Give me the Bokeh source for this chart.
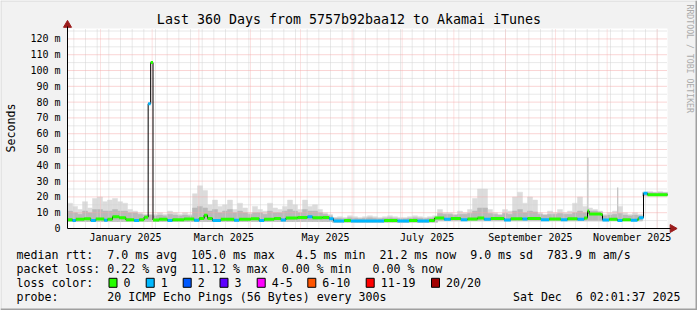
import math
import re
from bokeh.plotting import figure
from bokeh.models import Range1d, FixedTicker, Label, LinearAxis, ColumnDataSource
from bokeh.embed import file_html
from bokeh.resources import INLINE

# ---------------- data (x = days since 2025-01-01, y = milliseconds) ----------------
X_START, X_END = -19.8, 340.2
Y_MAX = 126.6

TITLE = "Last 360 Days from 5757b92baa12 to Akamai iTunes"

MONTH_START_DAYS = [0, 31, 59, 90, 120, 151, 181, 212, 243, 273, 304, 334]
WEEK_DAYS = [-16, -9, -2, 5, 12, 19, 26, 33, 40, 47, 54, 61, 68, 75, 82, 89, 96, 103,
             110, 117, 124, 131, 138, 145, 152, 159, 166, 173, 180, 187, 194, 201, 208,
             215, 222, 229, 236, 243, 250, 257, 264, 271, 278, 285, 292, 299, 306, 313,
             320, 327, 334]
MONTH_LABEL_DAYS = [15, 74, 135, 196, 258, 319]
MONTH_LABELS = ["January 2025", "March 2025", "May 2025", "July 2025",
                "September 2025", "November 2025"]

Y_TICKS = [0, 10, 20, 30, 40, 50, 60, 70, 80, 90, 100, 110, 120]
Y_TICK_LABELS = ["0", "10 m", "20 m", "30 m", "40 m", "50 m", "60 m", "70 m",
                 "80 m", "90 m", "100 m", "110 m", "120 m"]
Y_MINOR = [5, 15, 25, 35, 45, 55, 65, 75, 85, 95, 105, 115, 125]

# median rtt: step change points (day), value (ms), loss class index
MED_DAY = [-19.8, -16.8, -14.8, -9.8, -5.8, -2.8, 2.2, 4.2, 7.2, 11.2, 15.2, 20.2, 23.2,
           26.2, 28.6, 30.1, 31.5, 35.2, 40.2, 43.2, 50.2, 56.2, 59.2, 62.2, 64.2, 67.2,
           72.2, 80.2, 83.2, 90.2, 95.2, 98.2, 104.2, 108.2, 111.2, 118.2, 124.2, 127.2,
           133.2, 137.2, 139.8, 146.2, 150.2, 170.2, 178.2, 185.2, 190.2, 197.2, 200.5,
           206.2, 210.2, 216.2, 220.2, 226.2, 230.2, 234.2, 242.2, 246.2, 253.2, 256.2,
           264.2, 269.2, 276.2, 280.2, 286.2, 290.2, 292.2, 293.2, 300.2, 301.2, 305.2,
           310.2, 313.2, 318.2, 322.2, 323.0, 325.8, 328.2]
MED_MS = [5.6, 5.0, 5.8, 6.2, 5.0, 6.0, 5.2, 5.8, 7.4, 6.8, 5.6, 5.0, 5.6,
          7.2, 79.0, 105.0, 5.4, 5.8, 5.0, 5.6, 6.0, 5.2, 6.4, 8.4, 6.4, 5.0,
          5.8, 5.2, 5.8, 6.2, 5.0, 5.8, 6.4, 5.4, 6.6, 7.0, 7.4, 6.8,
          7.0, 6.2, 4.8, 5.0, 4.8, 5.0, 4.8, 5.0, 4.8, 5.0, 6.6,
          5.8, 6.4, 5.6, 6.0, 6.6, 5.8, 6.4, 5.4, 6.2, 6.0, 6.4,
          5.6, 6.0, 5.6, 6.2, 5.8, 6.6, 11.0, 9.2, 8.8, 5.4, 5.8,
          5.0, 5.6, 5.2, 5.8, 6.8, 22.3, 21.4]
MED_LOSS = [0, 1, 0, 0, 1, 0, 1, 0, 0, 0, 0, 1, 0,
            0, 1, 0, 0, 0, 1, 0, 0, 1, 0, 0, 0, 1,
            0, 1, 0, 0, 1, 0, 0, 1, 0, 0, 1, 0,
            0, 1, 1, 0, 1, 0, 1, 0, 1, 0, 0,
            1, 0, 1, 0, 0, 1, 0, 1, 0, 1, 0,
            1, 0, 1, 0, 1, 0, 0, 0, 0, 1, 0,
            1, 0, 1, 0, 1, 1, 0]

# smoke: 3-day bins starting at X_START
SMOKE_HI = [16, 14, 12, 17, 13, 19, 20, 17, 18, 19, 17, 16, 12, 11, 10, 9,
            9,
            9, 10, 9, 11, 10, 9, 10, 9,
            22, 27, 24, 15, 18, 14, 15, 18, 12, 16, 13, 10, 14, 12, 11, 16, 13, 12, 14, 18,
            15, 12, 18, 14, 15, 12, 10, 9, 7,
            7.5, 7, 8, 7.5, 7, 7.5, 8, 7.5, 7, 7.5, 8, 7.5, 7, 7, 7.5, 8, 7.5, 7, 7.5, 8,
            12, 10, 10, 9, 11, 10, 12, 19, 25, 25, 12, 10, 9, 12, 11, 20, 23, 16, 20, 18,
            10, 9, 11, 10, 12, 10, 11, 16, 20, 14,
            13, 12, 11, 9, 10, 11, 14, 10, 9, 10, 9,
            23, 23.5, 23, 23.5, 23]
SMOKE_MID = [11, 10, 9, 11, 10, 12, 12, 11, 11, 12, 11, 11, 10, 10, 9, 8.5,
             8.5,
             8, 8.5, 8, 9, 8.5, 8, 8.5, 8,
             13, 14, 13, 11, 12, 10, 11, 12, 10, 11, 10, 9, 10, 10, 9, 11, 10, 10, 11, 12,
             11, 10, 12, 11, 11, 10, 9, 8, 6.5,
             6.5, 6.2, 6.8, 6.5, 6.2, 6.5, 6.8, 6.5, 6.2, 6.5, 6.8, 6.5, 6.2, 6.2, 6.5, 6.8,
             6.5, 6.2, 6.5, 6.8,
             9.5, 9, 9, 8.5, 9, 9, 9.5, 11, 13, 13, 9.5, 9, 8.5, 9.5, 9, 11, 12, 10, 11, 10.5,
             9, 8.5, 9, 9, 9.5, 9, 9, 10, 11, 10,
             11, 11, 10.5, 8, 8.5, 9, 9.5, 8.5, 8, 8.5, 8,
             22.6, 22.8, 22.6, 22.8, 22.6]
SMOKE_LO = [4.5, 4.5, 4.5, 4.5, 4.5, 4.5, 4.5, 4.5, 4.5, 4.5, 4.5, 4.5, 4.5, 4.5, 4.5, 4.5,
            4.5,
            4.5, 4.5, 4.5, 4.5, 4.5, 4.5, 4.5, 4.5,
            4.5, 4.5, 4.5, 4.5, 4.5, 4.5, 4.5, 4.5, 4.5, 4.5, 4.5, 4.5, 4.5, 4.5, 4.5, 4.5,
            4.5, 4.5, 4.5, 4.5, 4.5, 4.5, 4.5, 4.5, 4.5, 4.5, 4.5, 4.5, 4.0,
            4.0, 4.0, 4.0, 4.0, 4.0, 4.0, 4.0, 4.0, 4.0, 4.0, 4.0, 4.0, 4.0, 4.0, 4.0, 4.0,
            4.0, 4.0, 4.0, 4.0,
            4.8, 4.8, 4.8, 4.8, 4.8, 4.8, 4.8, 4.8, 4.8, 4.8, 4.8, 4.8, 4.8, 4.8, 4.8, 4.8,
            4.8, 4.8, 4.8, 4.8,
            4.8, 4.8, 4.8, 4.8, 4.8, 4.8, 4.8, 4.8, 4.8, 4.8,
            4.8, 4.8, 4.8, 4.8, 4.8, 4.8, 4.8, 4.8, 4.8, 4.8, 4.8,
            20.8, 20.8, 20.8, 20.8, 20.8]
SMOKE_BIN_DAYS = 3

# isolated narrow smoke spikes
SPIKE_DAY = [292.4, 310.3]
SPIKE_LO = [6.0, 6.0]
SPIKE_MS = [45.0, 26.0]

LOSS_LABELS = ["0", "1", "2", "3", "4-5", "6-10", "11-19", "20/20"]
LOSS_COLORS = ["#26ff00", "#00b8ff", "#0059ff", "#5e00ff", "#ff00fe", "#ff5500",
               "#ff0000", "#a10000"]

LEGEND_ROWS = [
    "median rtt:  7.0 ms avg  105.0 ms max   4.5 ms min  21.2 ms now  9.0 ms sd  783.9 m am/s",
    "packet loss: 0.22 % avg  11.12 % max  0.00 % min   0.00 % now",
    "loss color:",
    "probe:       20 ICMP Echo Pings (56 Bytes) every 300s",
]
DATE_TEXT = "Sat Dec  6 02:01:37 2025"
WATERMARK = "RRDTOOL / TOBI OETIKER"

# ---------------- layout (pixels) ----------------
W, H = 697, 310
FRAME_L, FRAME_R, FRAME_T, FRAME_B = 67, 667, 28, 228
DPP = (X_END - X_START) / (FRAME_R - FRAME_L)      # days per pixel
MPP = Y_MAX / (FRAME_B - FRAME_T)                   # ms per pixel
X_LO, X_HI = X_START - FRAME_L * DPP, X_END + (W - FRAME_R) * DPP
Y_LO, Y_HI = -(H - FRAME_B) * MPP, Y_MAX + FRAME_T * MPP


def px2x(px):
    return X_START + (px - FRAME_L) * DPP


def py2y(py):
    return (FRAME_B - py) * MPP


def keep_spaces(s):
    # SVG collapses runs of blanks: keep the column layout with no-break spaces
    return re.sub(r" {2,}", lambda m: "\u00a0" * (len(m.group(0)) - 1) + " ", s)


MONO = "DejaVu Sans Mono"
LEG_FS = "11.6px"
ROW_Y = [254.3, 268.3, 282.3, 296.3]
BOX_X = [108.5, 145.7, 182.7, 219.5, 256.7, 307.3, 365.7, 431.0]
ARROW_C = "#9b1c1c"
GREY, PINK_V, PINK_H = "#d2d2d2", "#f8c4c4", "#f4aaaa"

p = figure(width=W, height=H, x_range=Range1d(X_LO, X_HI), y_range=Range1d(Y_LO, Y_HI),
           output_backend="svg", toolbar_location=None, title=None,
           x_axis_location=None, y_axis_location=None,
           min_border=0, min_border_left=0, min_border_right=0, min_border_top=0,
           min_border_bottom=0, background_fill_color="#f2f2f2",
           border_fill_color="#f2f2f2")
p.outline_line_color = None
p.xgrid.visible = False
p.ygrid.visible = False

# white canvas of the graph
p.quad(left=[X_START], right=[X_END], bottom=[0], top=[Y_MAX], fill_color="#ffffff",
       line_color=None, level="image")

# smoke
n = len(SMOKE_HI)
lefts = [X_START + SMOKE_BIN_DAYS * i for i in range(n)]
rights = [l + SMOKE_BIN_DAYS for l in lefts]
smoke = ColumnDataSource(dict(left=lefts, right=rights, lo=SMOKE_LO, mid=SMOKE_MID, hi=SMOKE_HI))
p.quad(left="left", right="right", bottom="lo", top="hi", source=smoke,
       fill_color="#dcdcdc", line_color="#dcdcdc", line_width=0.5, level="image")
p.quad(left="left", right="right", bottom="lo", top="mid", source=smoke,
       fill_color="#b9b9b9", line_color="#b9b9b9", line_width=0.5, level="image")
p.vbar(x=SPIKE_DAY, width=0.8, bottom=SPIKE_LO, top=SPIKE_MS, fill_color="#c4c4c4",
       line_color=None, level="image")

# grid (dotted), drawn above the smoke
p.segment(x0=WEEK_DAYS, y0=0, x1=WEEK_DAYS, y1=Y_MAX, line_color=GREY, line_dash="1 1",
          line_width=1, level="underlay")
p.segment(x0=X_START, y0=Y_MINOR, x1=X_END, y1=Y_MINOR, line_color=GREY, line_dash="1 1",
          line_width=1, level="underlay")
p.segment(x0=MONTH_START_DAYS, y0=0, x1=MONTH_START_DAYS, y1=Y_MAX, line_color=PINK_V,
          line_dash="1 1", line_width=1, level="underlay")
p.segment(x0=X_START, y0=Y_TICKS[1:], x1=X_END, y1=Y_TICKS[1:], line_color=PINK_H,
          line_dash="1 1", line_width=1, level="underlay")

# median line
step_x = MED_DAY + [X_END]
step_y = MED_MS + [MED_MS[-1]]
p.step(x=step_x, y=step_y, mode="after", line_color="#000000", line_width=1)
seg = ColumnDataSource(dict(x0=MED_DAY, x1=MED_DAY[1:] + [X_END], y=MED_MS,
                            c=[LOSS_COLORS[k] for k in MED_LOSS]))
p.segment(x0="x0", y0="y", x1="x1", y1="y", source=seg, line_color="c", line_width=3)

# axes placed at the graph's edges
xa = LinearAxis(ticker=FixedTicker(ticks=MONTH_LABEL_DAYS), fixed_location=0,
                bounds=(X_START, X_END + 3 * DPP))
xa.major_label_overrides = dict(zip(MONTH_LABEL_DAYS, MONTH_LABELS))
ya = LinearAxis(ticker=FixedTicker(ticks=Y_TICKS), fixed_location=X_START,
                bounds=(0, Y_MAX + 2 * MPP))
ya.major_label_overrides = dict(zip(Y_TICKS, Y_TICK_LABELS))
for ax, stand in ((xa, 3), (ya, 7)):
    ax.major_tick_line_color = None
    ax.minor_tick_line_color = None
    ax.major_tick_out = 0
    ax.major_tick_in = 0
    ax.major_label_standoff = stand
    ax.axis_line_color = "#000000"
    ax.major_label_text_font = MONO
    ax.major_label_text_font_size = "10px"
    ax.major_label_text_color = "#000000"
p.add_layout(xa, "below")
p.add_layout(ya, "left")

# arrow heads
p.scatter(x=[X_END + 5 * DPP], y=[0], marker="triangle", angle=-math.pi / 2, size=8,
          fill_color=ARROW_C, line_color=ARROW_C)
p.scatter(x=[X_START], y=[Y_MAX + 3.5 * MPP], marker="triangle", size=8,
          fill_color=ARROW_C, line_color=ARROW_C)


def txt(s, px, py, size=LEG_FS, align="left", angle=0.0, color="#000000"):
    p.add_layout(Label(x=px2x(px), y=py2y(py), text=keep_spaces(s), text_font=MONO,
                       text_font_size=size, text_align=align, text_baseline="middle",
                       angle=angle, text_color=color))


txt(TITLE, 348.5, 19, size="13.3px", align="center")
txt("Seconds", 10.5, 127.5, angle=math.pi / 2, align="center")
txt(WATERMARK, 689, 4, size="8.2px", angle=-math.pi / 2, color="#aaaaaa")
for row, yy in zip(LEGEND_ROWS, ROW_Y):
    txt(row, 16, yy)
txt(DATE_TEXT, 680, ROW_Y[3], align="right")
for bx, lab in zip(BOX_X, LOSS_LABELS):
    txt(lab, bx + 14.5, ROW_Y[2])

# loss colour swatches
p.rect(x=[px2x(bx + 4) for bx in BOX_X], y=py2y(ROW_Y[2]), width=8, height=9,
       width_units="screen", height_units="screen", fill_color=LOSS_COLORS,
       line_color="#000000", line_width=1)

# 3D frame of the image
p.quad(left=[X_LO, X_LO], right=[X_HI, X_LO + 1 * DPP], bottom=[Y_HI - 1 * MPP, Y_LO],
       top=[Y_HI, Y_HI], fill_color="#d6d6d6", line_color=None)
p.quad(left=[X_LO, X_HI - 2 * DPP], right=[X_HI, X_HI], bottom=[Y_LO, Y_LO],
       top=[Y_LO + 2 * MPP, Y_HI], fill_color="#a0a0a0", line_color=None)

open("out.html", "w").write(file_html(p, INLINE, title="smokeping"))
